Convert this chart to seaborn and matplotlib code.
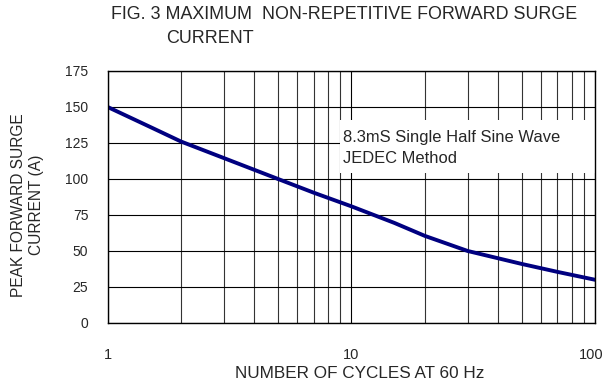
import matplotlib
matplotlib.use("Agg")
import matplotlib.pyplot as plt
import seaborn as sns
import pandas as pd
from matplotlib.patches import Rectangle
from matplotlib.ticker import FixedLocator, NullFormatter
from matplotlib.transforms import ScaledTranslation

cycles = [1, 1.5, 2, 3, 5, 7, 10, 15, 20, 30, 50, 70, 100]
current = [150, 136, 126, 114.5, 100, 90.5, 81, 69.5, 60.5, 50, 41, 35.5, 30]
x_ticks = [1, 10, 100]
x_tick_labels = ["1", "10", "100"]
y_ticks = [0, 25, 50, 75, 100, 125, 150, 175]

sns.set_style("white")
plt.rcParams['font.family'] = ['Liberation Sans', 'DejaVu Sans']

W, H = 605, 385
fig = plt.figure(figsize=(W / 100, H / 100), dpi=100)
ax = fig.add_axes([107.7 / W, 1 - 323 / H, 487.5 / W, 252 / H])

df = pd.DataFrame({"cycles": cycles, "current": current})
ax.set_xscale("log")
sns.lineplot(data=df, x="cycles", y="current", ax=ax, color="#000080", lw=2.8, zorder=5)

ax.set_xlim(1, 100)
ax.set_ylim(0, 175)
ax.set_xticks(x_ticks)
ax.set_xticklabels(x_tick_labels)
minor = [m * d for d in (1, 10) for m in range(2, 10)]
ax.xaxis.set_minor_locator(FixedLocator(minor))
ax.xaxis.set_minor_formatter(NullFormatter())
ax.set_yticks(y_ticks)
ax.grid(which="major", axis="both", color="black", lw=0.8)
ax.grid(which="minor", axis="x", color="#333333", lw=0.8)
ax.tick_params(axis="both", which="both", length=0)
ax.tick_params(axis="x", pad=18, labelsize=10.5)
ax.tick_params(axis="y", pad=14, labelsize=10)
last = ax.get_xticklabels()[-1]
last.set_transform(last.get_transform() + ScaledTranslation(-4 / 100, 0, fig.dpi_scale_trans))
for s in ax.spines.values():
    s.set_color("black")
    s.set_linewidth(1.0)
    s.set_zorder(6)

ax.add_patch(Rectangle((0.477, 0.595), 0.523, 0.211, transform=ax.transAxes,
                       facecolor="white", edgecolor="none", zorder=3))
fig.text(342.7 / W, 1 - 137.5 / H, "8.3mS Single Half Sine Wave",
         fontsize=11.85, va="center", ha="left", zorder=4)
fig.text(342.7 / W, 1 - 158.5 / H, "JEDEC Method",
         fontsize=11.85, va="center", ha="left", zorder=4)

ax.set_xlabel("")
ax.set_ylabel("")
fig.text(359.5 / W, 1 - 373 / H, "NUMBER OF CYCLES AT 60 Hz", fontsize=12.3,
         ha="center", va="center")
fig.text(28 / W, 1 - 205 / H, "PEAK FORWARD SURGE\nCURRENT (A)", fontsize=11.2,
         ha="center", va="center", rotation=90, multialignment="center",
         linespacing=1.25)

fig.text(111 / W, 1 - 14.5 / H, "FIG. 3 MAXIMUM  NON-REPETITIVE FORWARD SURGE",
         fontsize=12.9, ha="left", va="center")
fig.text(166 / W, 1 - 38.5 / H, "CURRENT", fontsize=12.9, ha="left", va="center")

fig.savefig("out.png", dpi=100)
